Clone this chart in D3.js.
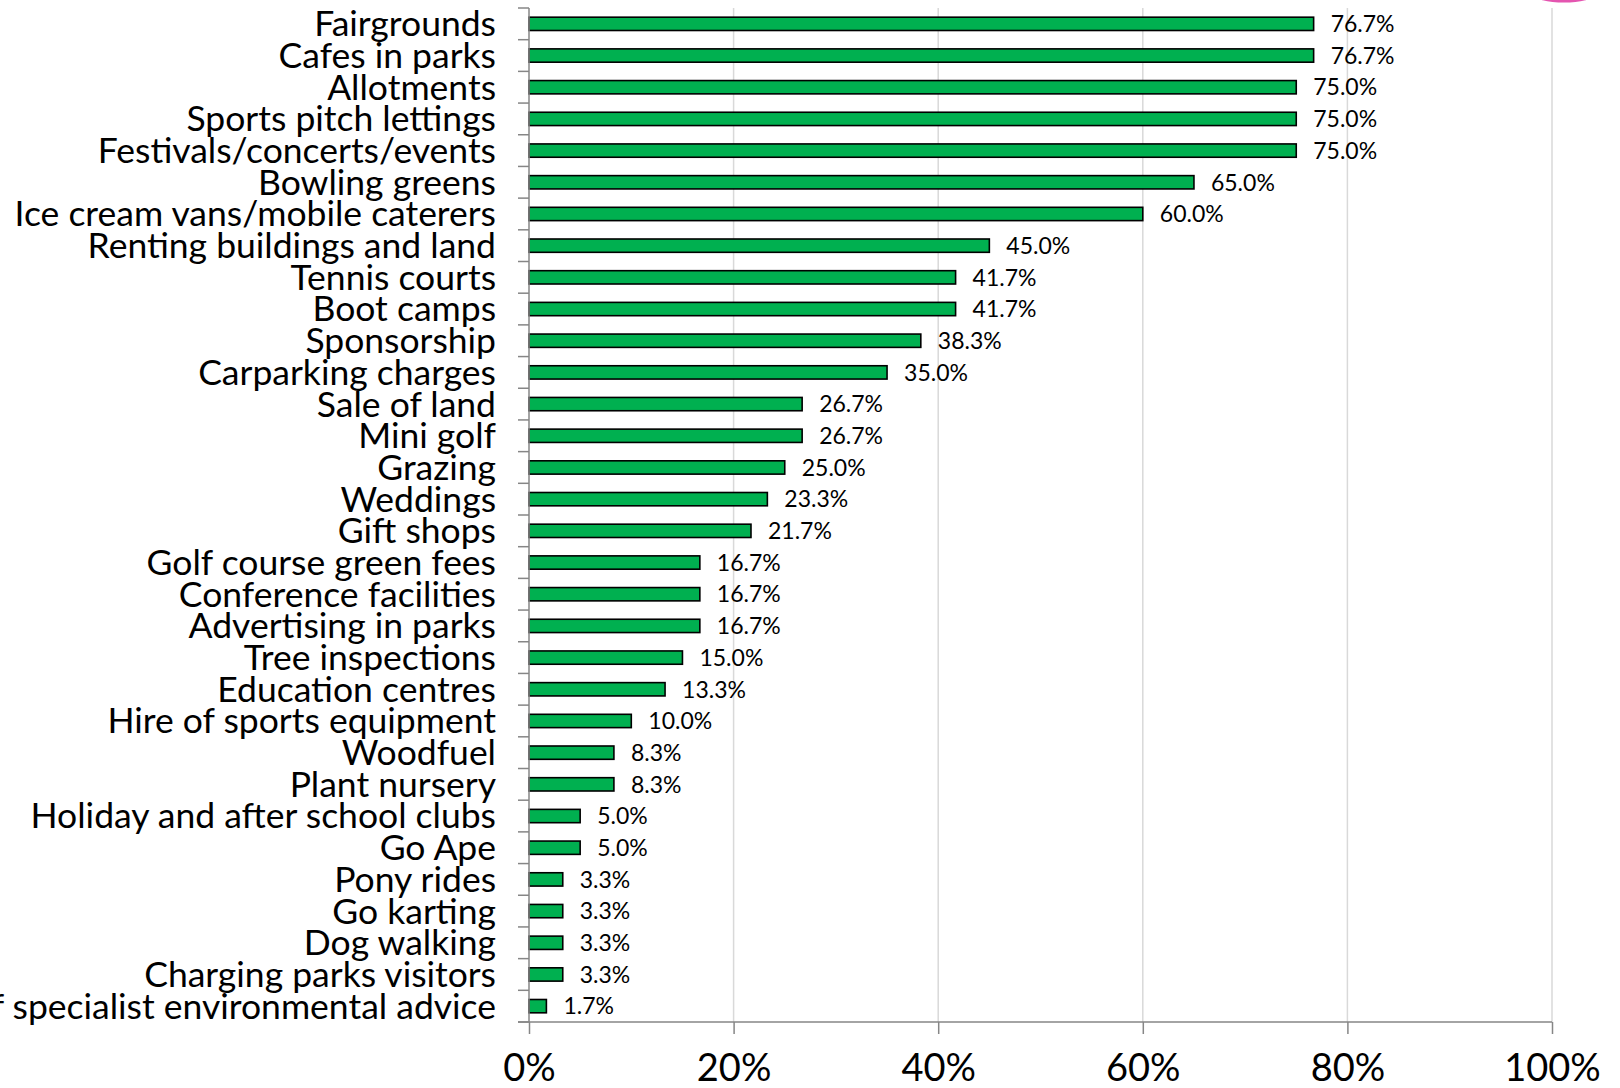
<!DOCTYPE html>
<html>
<head>
<meta charset="utf-8">
<script src="https://cdn.jsdelivr.net/npm/d3@7"></script>
<style>
  html, body { margin: 0; padding: 0; background: #fff; overflow: hidden; }
  svg { display: block; }
</style>
</head>
<body>
<svg id="chart" width="1620" height="1088"></svg>
<script>
const categories = [
  "Fairgrounds", "Cafes in parks", "Allotments", "Sports pitch lettings",
  "Festivals/concerts/events", "Bowling greens", "Ice cream vans/mobile caterers",
  "Renting buildings and land", "Tennis courts", "Boot camps", "Sponsorship",
  "Carparking charges", "Sale of land", "Mini golf", "Grazing", "Weddings",
  "Gift shops", "Golf course green fees", "Conference facilities",
  "Advertising in parks", "Tree inspections", "Education centres",
  "Hire of sports equipment", "Woodfuel", "Plant nursery",
  "Holiday and after school clubs", "Go Ape", "Pony rides", "Go karting",
  "Dog walking", "Charging parks visitors",
  "Provision of specialist environmental advice"
];
const values = [
  76.7, 76.7, 75.0, 75.0, 75.0, 65.0, 60.0, 45.0, 41.7, 41.7, 38.3, 35.0,
  26.7, 26.7, 25.0, 23.3, 21.7, 16.7, 16.7, 16.7, 15.0, 13.3, 10.0, 8.3,
  8.3, 5.0, 5.0, 3.3, 3.3, 3.3, 3.3, 1.7
];
const tickValues = [0, 20, 40, 60, 80, 100];
const tickLabels = ["0%", "20%", "40%", "60%", "80%", "100%"];

const data = categories.map((c, i) => ({ cat: c, val: values[i] }));

const svg = d3.select("#chart");
const margin = { left: 529, right: 68, top: 8, bottom: 66 };
const W = 1620, H = 1088;
const innerW = W - margin.left - margin.right;
const innerH = H - margin.top - margin.bottom;

const x = d3.scaleLinear().domain([0, 100]).range([0, innerW]);
const y = d3.scaleBand().domain(categories).range([0, innerH]).paddingInner(0.58).paddingOuter(0.29);

// decorative pink fragment at top right
svg.append("ellipse")
  .attr("cx", 1564).attr("cy", -5).attr("rx", 30).attr("ry", 7.5)
  .attr("fill", "#e455b0");

const g = svg.append("g").attr("transform", `translate(${margin.left},${margin.top})`);

// gridlines
g.append("g").selectAll("line")
  .data(tickValues.filter(v => v > 0))
  .join("line")
  .attr("x1", d => x(d)).attr("x2", d => x(d))
  .attr("y1", 0).attr("y2", innerH)
  .attr("stroke", "#d9d9d9").attr("stroke-width", 1.5);

// bars
g.append("g").selectAll("rect")
  .data(data)
  .join("rect")
  .attr("x", 0)
  .attr("y", d => y(d.cat))
  .attr("width", d => x(d.val))
  .attr("height", y.bandwidth())
  .attr("fill", "#00b050")
  .attr("stroke", "#000")
  .attr("stroke-width", 1.6);

// value labels
g.append("g").selectAll("text")
  .data(data)
  .join("text")
  .attr("x", d => x(d.val) + 17)
  .attr("y", d => y(d.cat) + y.bandwidth() / 2)
  .attr("dy", "0.36em")
  .attr("font-family", "Lato, 'Open Sans', sans-serif")
  .attr("font-size", 23)
  .attr("fill", "#000")
  .text(d => d.val.toFixed(1) + "%");

// y axis with ticks at band boundaries
const yAxisG = g.append("g");
const stepY = y.step();
const boundaries = d3.range(categories.length + 1).map(i => i * stepY);
yAxisG.selectAll("line.tk")
  .data(boundaries)
  .join("line")
  .attr("class", "tk")
  .attr("x1", -11).attr("x2", 0)
  .attr("y1", d => d).attr("y2", d => d)
  .attr("stroke", "#868686").attr("stroke-width", 1.5);
yAxisG.append("line")
  .attr("x1", 0).attr("x2", 0).attr("y1", 0).attr("y2", innerH)
  .attr("stroke", "#868686").attr("stroke-width", 1.5);

// category labels
yAxisG.selectAll("text")
  .data(categories)
  .join("text")
  .attr("x", -33)
  .attr("y", d => y(d) + y.bandwidth() / 2)
  .attr("dy", "0.35em")
  .attr("text-anchor", "end")
  .attr("font-family", "Lato, 'Open Sans', sans-serif")
  .attr("font-size", 35.5)
  .attr("fill", "#000")
  .text(d => d);

// x axis
const xAxis = d3.axisBottom(x)
  .tickValues(tickValues)
  .tickFormat((d, i) => tickLabels[i])
  .tickSize(12)
  .tickSizeOuter(0)
  .tickPadding(20);
const xg = g.append("g").attr("transform", `translate(0,${innerH})`).call(xAxis);
xg.select(".domain").remove();
xg.append("line").attr("x1", -11).attr("x2", innerW).attr("y1", 0).attr("y2", 0)
  .attr("stroke", "#868686").attr("stroke-width", 1.5);
xg.selectAll(".tick line").attr("stroke", "#868686").attr("stroke-width", 1.5);
xg.selectAll(".tick text")
  .attr("font-family", "Lato, 'Open Sans', sans-serif")
  .attr("font-size", 38)
  .attr("fill", "#000");
</script>
</body>
</html>
